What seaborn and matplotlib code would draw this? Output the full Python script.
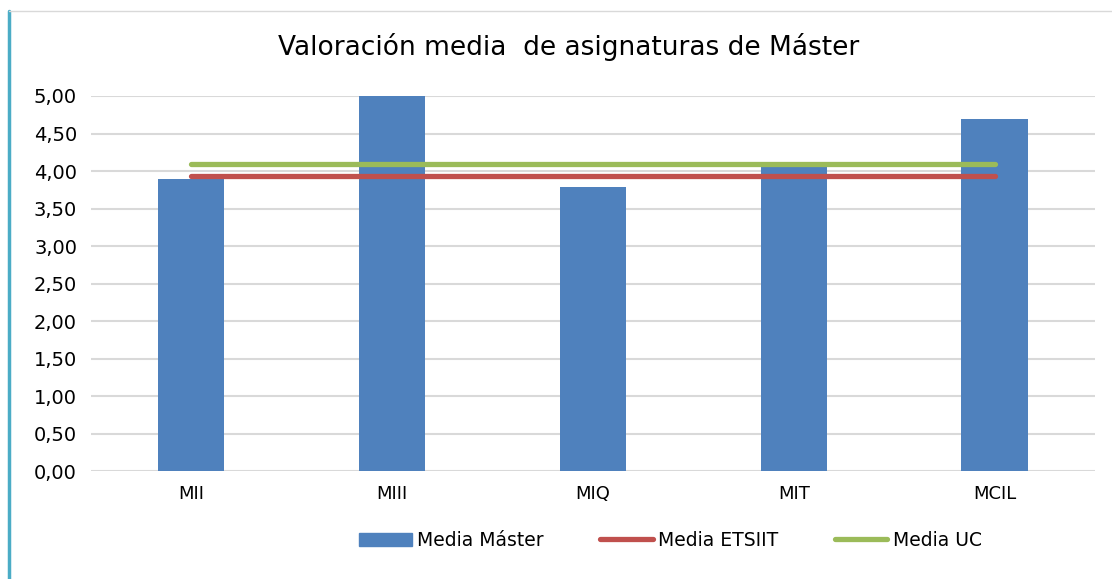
import matplotlib
matplotlib.use("Agg")
import matplotlib.pyplot as plt
import seaborn as sns
import pandas as pd
from matplotlib.patches import Patch
from matplotlib.lines import Line2D

# Valores
masters = ["MII", "MIII", "MIQ", "MIT", "MCIL"]
media_master = [3.89, 5.00, 3.79, 4.06, 4.69]
media_etsiit = [3.93, 3.93, 3.93, 3.93, 3.93]
media_uc = [4.09, 4.09, 4.09, 4.09, 4.09]
yticks = [0, 0.5, 1, 1.5, 2, 2.5, 3, 3.5, 4, 4.5, 5]

df = pd.DataFrame({"master": masters, "valor": media_master})

sns.set_style("white")
plt.rcParams["font.family"] = ["DejaVu Sans"]
plt.rcParams["text.color"] = "black"
plt.rcParams["xtick.color"] = "black"
plt.rcParams["ytick.color"] = "black"

c_bar = "#4f81bd"
c_red = "#c0504d"
c_green = "#9bbb59"

fig = plt.figure(figsize=(11.12, 5.79), dpi=100)
ax = fig.add_axes([0.0818, 0.1865, 0.9029, 0.6477])

sns.barplot(data=df, x="master", y="valor", color=c_bar, width=0.33,
            saturation=1, linewidth=0, ax=ax, zorder=2)
x = list(range(len(masters)))
ax.plot(x, media_etsiit, color=c_red, lw=3.8, solid_capstyle="round", zorder=3)
ax.plot(x, media_uc, color=c_green, lw=3.8, solid_capstyle="round", zorder=3)

ax.set_xlim(-0.5, 4.5)
ax.set_ylim(0, 5)
ax.set_yticks(yticks)
ax.set_yticklabels([f"{v:.2f}".replace(".", ",") for v in yticks], fontsize=14)
ax.tick_params(axis="x", labelsize=13, length=0, pad=10, colors="black")
ax.tick_params(axis="y", length=0, pad=10, colors="black")
ax.grid(axis="y", color="#d9d9d9", lw=1.5, zorder=0)
ax.set_axisbelow(True)
for s in ax.spines.values():
    s.set_visible(False)
ax.set_xlabel("")
ax.set_ylabel("")

fig.text(0.511, 0.918, "Valoración media  de asignaturas de Máster",
         ha="center", va="center", fontsize=19, color="black")

handles = [Patch(color=c_bar, label="Media Máster"),
           Line2D([], [], color=c_red, lw=3.8, solid_capstyle="round", label="Media ETSIIT"),
           Line2D([], [], color=c_green, lw=3.8, solid_capstyle="round", label="Media UC")]
fig.legend(handles=handles, loc="center", bbox_to_anchor=(0.603, 0.067), ncol=3,
           frameon=False, fontsize=13.5, handlelength=2.8, handleheight=0.7,
           handletextpad=0.3, columnspacing=3.0)

# marco del grafico
fig.add_artist(Line2D([0.0085, 0.0085], [0, 0.981], color="#4bacc6", lw=2.5))
fig.add_artist(Line2D([0.0085, 1], [0.981, 0.981], color="#d9d9d9", lw=1))

fig.savefig("out.png", dpi=100)
